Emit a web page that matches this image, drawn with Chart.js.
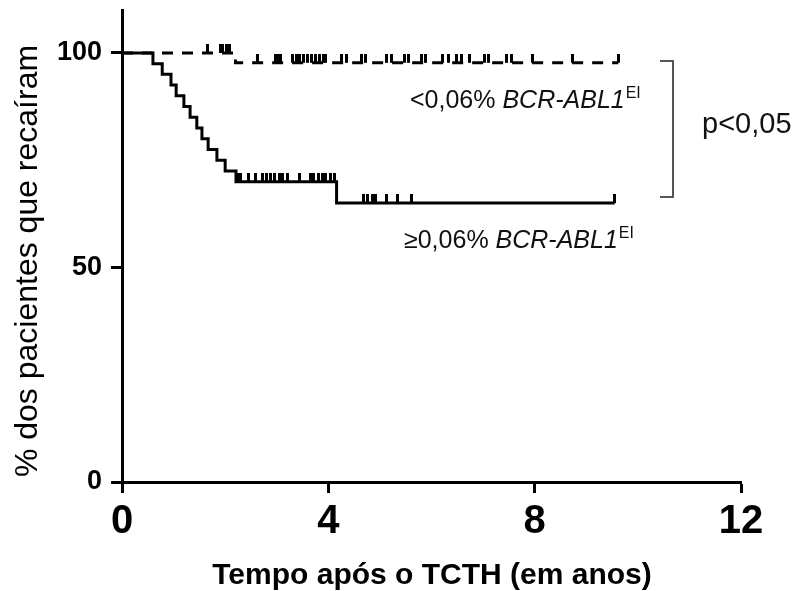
<!DOCTYPE html>
<html>
<head>
<meta charset="utf-8">
<script src="https://cdn.jsdelivr.net/npm/chart.js@4.4.1/dist/chart.umd.min.js"></script>
<style>
  html, body { margin: 0; padding: 0; background: #fff; }
  #wrap { width: 800px; height: 591px; }
</style>
</head>
<body>
<div id="wrap"><canvas id="km" width="800" height="591"></canvas></div>
<script>
/* ── Data ── */
// >=0,06% group: step curve (time in years, % still relapse-free)
const highT = [0, 0.60, 0.78, 0.95, 1.05, 1.20, 1.32, 1.45, 1.55, 1.67, 1.84, 2.00, 2.21, 4.16, 9.55];
const highS = [100, 97.5, 95, 92.5, 90, 87.5, 85, 82.5, 80, 77.5, 75, 72.5, 70, 65, 65];
const highCensor = [2.25, 2.3, 2.45, 2.58, 2.72, 2.8, 2.88, 2.95, 3.05, 3.12, 3.2, 3.45, 3.65, 3.72, 3.8,
                    3.88, 3.95, 4.05, 4.12, 4.68, 4.75, 4.85, 4.92, 5.13, 5.35, 5.62, 9.55];

// <0,06% group
const lowT = [0, 2.2, 9.62];
const lowS = [100, 97.7, 97.7];
const lowCensor = [1.65, 1.9, 1.95, 2.02, 2.08, 2.62, 2.98, 3.03, 3.08, 3.3, 3.38, 3.45, 3.52, 3.6, 3.68,
                   3.75, 3.82, 3.9, 3.95, 4.25, 4.35, 4.65, 4.72, 5.13, 5.23, 5.48, 5.55, 5.81, 5.88,
                   6.22, 6.32, 6.49, 6.59, 6.74, 7.03, 7.1, 7.46, 7.56, 7.95, 8.74, 9.62];

const xTicks = [0, 4, 8, 12];
const yTicks = [0, 50, 100];

const xTitle = 'Tempo após o TCTH (em anos)';
const yTitle = '% dos pacientes que recaíram';

/* ── helpers ── */
const levelAt = (T, S, t) => {
  let v = S[0];
  for (let i = 0; i < T.length; i++) if (T[i] <= t) v = S[i];
  return v;
};
const curve = (T, S) => T.map((t, i) => ({ x: t, y: S[i] }));
const marks = (T, S, C) => C.map(t => ({ x: t, y: levelAt(T, S, t) }));

// censor tick: short vertical stroke going up from the curve
const tick = document.createElement('canvas');
tick.width = 3; tick.height = 18;
(() => { const c = tick.getContext('2d'); c.fillStyle = '#000'; c.fillRect(0, 0, 3, 9); })();

const FONT = "'Liberation Sans', Arial, sans-serif";

/* ── axis titles, group labels, bracket, p-value ── */
const annotations = {
  id: 'annotations',
  afterDraw(chart) {
    const ctx = chart.ctx;
    ctx.save();

    // axis titles
    ctx.fillStyle = '#000';
    ctx.textAlign = 'center';
    ctx.textBaseline = 'middle';
    ctx.font = `bold 30px ${FONT}`;
    ctx.fillText(xTitle, 432, 576);
    ctx.save();
    ctx.translate(28, 261);
    ctx.rotate(-Math.PI / 2);
    ctx.font = `32px ${FONT}`;
    ctx.fillText(yTitle, 0, 0);
    ctx.restore();

    ctx.fillStyle = '#111';
    ctx.textBaseline = 'alphabetic';
    ctx.textAlign = 'left';

    const rich = (x, y, prefix) => {
      ctx.font = `25px ${FONT}`;
      ctx.fillText(prefix, x, y);
      x += ctx.measureText(prefix).width;
      ctx.font = `italic 25px ${FONT}`;
      ctx.fillText('BCR-ABL1', x, y);
      x += ctx.measureText('BCR-ABL1').width + 1;
      ctx.font = `16px ${FONT}`;
      ctx.fillText('EI', x, y - 10);
    };
    rich(410, 108, '<0,06% ');
    rich(404, 248, '\u22650,06% ');

    // bracket
    ctx.strokeStyle = '#555';
    ctx.lineWidth = 2;
    ctx.beginPath();
    ctx.moveTo(660, 61);
    ctx.lineTo(673, 61);
    ctx.lineTo(673, 197);
    ctx.lineTo(660, 197);
    ctx.stroke();

    ctx.font = `29px ${FONT}`;
    ctx.fillText('p<0,05', 702, 133);
    ctx.restore();
  }
};

new Chart(document.getElementById('km').getContext('2d'), {
  type: 'line',
  data: {
    datasets: [
      {
        label: '<0,06% BCR-ABL1',
        data: curve(lowT, lowS),
        borderColor: '#000',
        borderWidth: 3,
        borderDash: [11, 9],
        stepped: true,
        pointRadius: 0,
        fill: false,
      },
      {
        label: '>=0,06% BCR-ABL1',
        data: curve(highT, highS),
        borderColor: '#000',
        borderWidth: 3,
        stepped: true,
        pointRadius: 0,
        fill: false,
      },
      {
        label: 'censor low',
        data: marks(lowT, lowS, lowCensor),
        showLine: false,
        pointStyle: tick,
      },
      {
        label: 'censor high',
        data: marks(highT, highS, highCensor),
        showLine: false,
        pointStyle: tick,
      },
    ],
  },
  options: {
    responsive: false,
    animation: false,
    layout: { padding: { top: 10, right: 59, left: 0, bottom: 0 } },
    plugins: { legend: { display: false }, tooltip: { enabled: false } },
    scales: {
      x: {
        type: 'linear',
        min: 0,
        max: 12,
        afterFit: s => { s.height = 109; },
        afterBuildTicks: s => { s.ticks = xTicks.map(v => ({ value: v })); },
        ticks: {
          color: '#000',
          padding: 5,
          font: { family: FONT, size: 40, weight: 'bold' },
        },
        grid: { drawOnChartArea: false, tickLength: 11, tickWidth: 3, tickColor: '#000' },
        border: { color: '#000', width: 3 },
      },
      y: {
        min: 0,
        max: 110,
        afterFit: s => { s.width = 122; s.paddingTop = 0; s.paddingBottom = 0; },
        afterBuildTicks: s => { s.ticks = yTicks.map(v => ({ value: v })); },
        ticks: {
          color: '#000',
          padding: 9,
          font: { family: FONT, size: 27, weight: 'bold' },
        },
        grid: { drawOnChartArea: false, tickLength: 11, tickWidth: 3, tickColor: '#000' },
        border: { color: '#000', width: 3 },
      },
    },
  },
  plugins: [annotations],
});
</script>
</body>
</html>
